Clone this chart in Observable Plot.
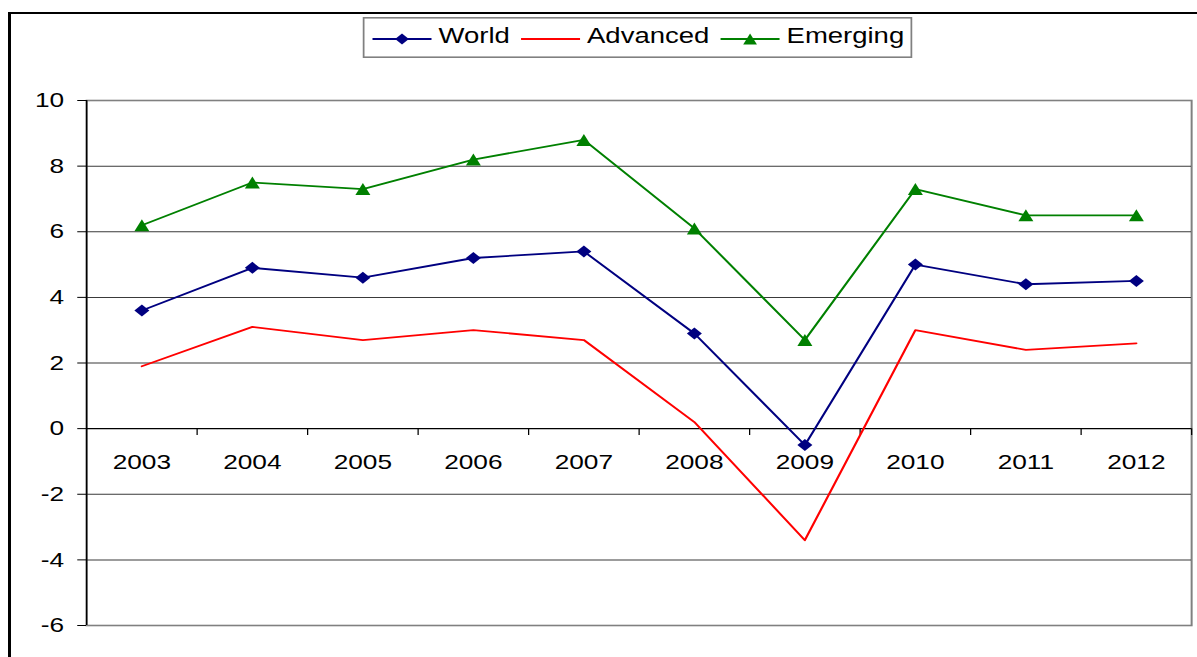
<!DOCTYPE html>
<html>
<head>
<meta charset="utf-8">
<script src="https://cdn.jsdelivr.net/npm/d3@7"></script>
<script src="https://cdn.jsdelivr.net/npm/@observablehq/plot@0.6"></script>
<style>
html, body { margin: 0; padding: 0; background: #fff; overflow: hidden; }
#page { position: relative; width: 1197px; height: 657px; overflow: hidden; background: #fff; }
#wrap { position: absolute; left: 0; top: 0; width: 958px; height: 657px; transform: scaleX(1.25); transform-origin: 0 0; }
#legend { position: absolute; left: 289.6px; top: 17px; }
#border { position: absolute; left: 8px; top: 12px; width: 1400px; height: 900px; border-left: 3px solid #000; border-top: 2.5px solid #000; pointer-events: none; }
</style>
</head>
<body>
<div id="page">
  <div id="wrap">
    <div id="chart"></div>
    <svg id="legend" width="440" height="41"></svg>
  </div>
  <div id="border"></div>
</div>
<script>
// ---- data ----
const years = [2003, 2004, 2005, 2006, 2007, 2008, 2009, 2010, 2011, 2012];
const world = [3.6, 4.9, 4.6, 5.2, 5.4, 2.9, -0.5, 5.0, 4.4, 4.5];
const advanced = [1.9, 3.1, 2.7, 3.0, 2.7, 0.2, -3.4, 3.0, 2.4, 2.6];
const emerging = [6.2, 7.5, 7.3, 8.2, 8.8, 6.1, 2.7, 7.3, 6.5, 6.5];
const seriesNames = ["World", "Advanced", "Emerging"];
const seriesColors = ["#000080", "#FF0000", "#008000"];
const yTicks = [-6, -4, -2, 0, 2, 4, 6, 8, 10];

// ---- derived table ----
const seriesValues = [world, advanced, emerging];
const rows = [];
seriesNames.forEach((name, si) => {
  years.forEach((yr, i) => rows.push({ series: name, year: yr, value: seriesValues[si][i] }));
});
const xDomain = [years[0] - 0.5, years[years.length - 1] + 0.5];
const boundaries = years.map(y => y + 0.5);
const gridTicks = yTicks.filter(d => d !== 0 && d !== yTicks[0] && d !== yTicks[yTicks.length - 1]);

// custom marker shapes (style only)
const diamondSym = { draw(ctx, size) { const r = Math.sqrt(size / Math.PI); ctx.moveTo(0, -r); ctx.lineTo(r, 0); ctx.lineTo(0, r); ctx.lineTo(-r, 0); ctx.closePath(); } };
const triangleSym = { draw(ctx, size) { const r = Math.sqrt(size / Math.PI); ctx.moveTo(0, -r); ctx.lineTo(r, r); ctx.lineTo(-r, r); ctx.closePath(); } };
const markers = { World: diamondSym, Emerging: triangleSym };

const chart = Plot.plot({
  width: 958,
  height: 657,
  marginLeft: 68.8,
  marginRight: 5.2,
  marginTop: 100,
  marginBottom: 32,
  style: { fontFamily: "'Liberation Sans', Arial, sans-serif", fontSize: "21px", color: "#000", background: "transparent" },
  x: { domain: xDomain, axis: null },
  y: { domain: [yTicks[0], yTicks[yTicks.length - 1]], axis: null },
  color: { domain: seriesNames, range: seriesColors },
  marks: [
    Plot.frame({ stroke: "#808080", strokeWidth: 1.6 }),
    Plot.ruleY(gridTicks, { stroke: "#3a3a3a", strokeWidth: 1 }),
    Plot.ruleY([0], { stroke: "#000", strokeWidth: 1.2 }),
    Plot.ruleX([xDomain[0]], { stroke: "#000", strokeWidth: 1.2 }),
    Plot.axisY({ ticks: yTicks, tickSize: 7, tickPadding: 11, tickFormat: d => String(d), label: null, fontSize: 21 }),
    Plot.ruleX(boundaries, { x: d => d, y1: 0, y2: -0.21, stroke: "#000", strokeWidth: 1 }),
    Plot.text(years, { x: d => d, y: 0, dy: 34, text: d => String(d), fontSize: 21, fill: "#000" }),
    Plot.line(rows, { x: "year", y: "value", z: "series", stroke: "series", strokeWidth: 1.8 }),
    Plot.dot(rows.filter(d => d.series === "World"), { x: "year", y: "value", symbol: diamondSym, r: 6, fill: "#000080", stroke: null }),
    Plot.dot(rows.filter(d => d.series === "Emerging"), { x: "year", y: "value", symbol: triangleSym, r: 6, fill: "#008000", stroke: null })
  ]
});
document.getElementById("chart").appendChild(chart);

// ---- legend ----
const lg = d3.select("#legend");
lg.append("rect").attr("x", 0.8).attr("y", 0.8).attr("width", 438.4).attr("height", 39.4)
  .attr("fill", "#fff").attr("stroke", "#808080").attr("stroke-width", 1.6);
let lx = 8;
const lineY = 22, baseY = 26.3, lineLen = 47.2;
seriesNames.forEach((name, i) => {
  const g = lg.append("g");
  g.append("line").attr("x1", lx).attr("x2", lx + lineLen).attr("y1", lineY).attr("y2", lineY)
    .attr("stroke", seriesColors[i]).attr("stroke-width", 1.8);
  if (markers[name]) {
    g.append("path").attr("d", d3.symbol(markers[name], Math.PI * 5.5 * 5.5)())
      .attr("transform", `translate(${lx + lineLen / 2},${lineY})`).attr("fill", seriesColors[i]);
  }
  const t = g.append("text").attr("x", lx + lineLen + 5.6).attr("y", baseY)
    .attr("font-family", "'Liberation Sans', Arial, sans-serif").attr("font-size", 22).attr("fill", "#000").text(name);
  const w = t.node().getComputedTextLength();
  lx = lx + lineLen + 5.6 + w + 9;
});
</script>
</body>
</html>
